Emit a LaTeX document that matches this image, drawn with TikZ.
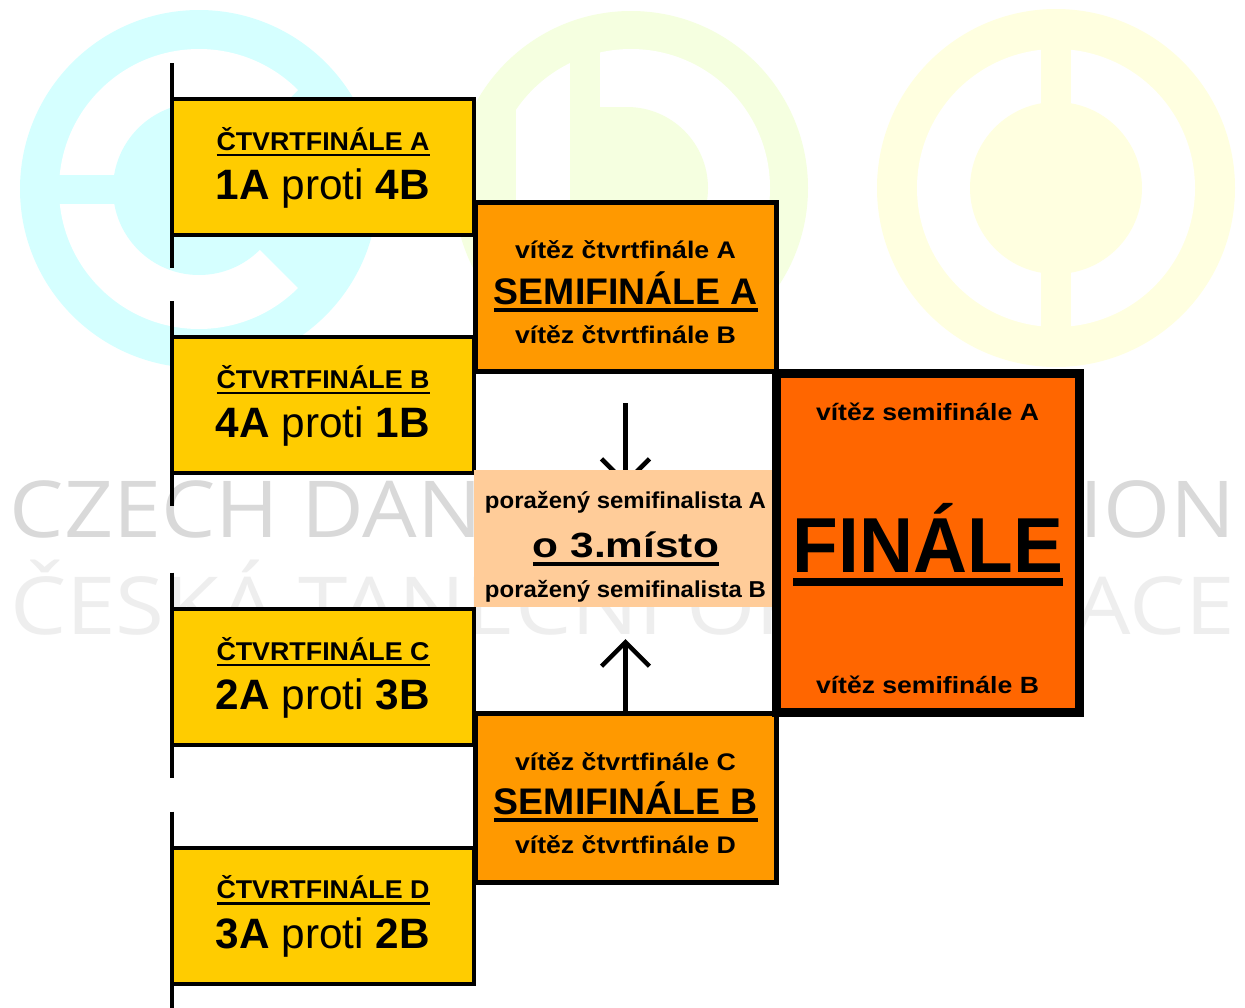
\documentclass[tikz,border=0pt]{standalone}
\usepackage{fontspec}
\usepackage{graphicx}
\setmainfont{Liberation Sans}
\newfontfamily\wmfont{Open Sans}
\usetikzlibrary{arrows.meta}
\definecolor{qyellow}{HTML}{FFCC00}
\definecolor{sorange}{HTML}{FF9900}
\definecolor{forange}{HTML}{FF6600}
\definecolor{peach}{HTML}{FFCC99}
\definecolor{wmC}{HTML}{D5FFFF}
\definecolor{wmD}{HTML}{F5FFE0}
\definecolor{wmO}{HTML}{FFFFE0}
\definecolor{wmgrayA}{HTML}{D9D9D9}
\definecolor{wmgrayB}{HTML}{EEEEEE}
\newcommand{\fsz}[1]{\fontsize{#1bp}{#1bp}\selectfont}
\newcommand{\ulbox}[3]{\begingroup\setbox0=\hbox{#3}\rlap{\rule[\dimexpr-#2-#1\relax]{\wd0}{#1}}\box0\endgroup}
\newcommand{\fitw}[2]{\resizebox{#1}{\height}{#2}}
\tikzset{
  qbox/.style={draw=black, line width=4bp, fill=qyellow, minimum width=302bp, minimum height=136bp, inner sep=0pt, outer sep=0pt},
  sbox/.style={draw=black, line width=5bp, fill=sorange, minimum width=301bp, minimum height=169bp, inner sep=0pt, outer sep=0pt},
  fbox/.style={draw=black, line width=9bp, fill=forange, minimum width=303bp, minimum height=339bp, inner sep=0pt, outer sep=0pt},
  pbox/.style={fill=peach, minimum width=298bp, minimum height=137bp, inner sep=0pt, outer sep=0pt},
  txt/.style={anchor=base, inner sep=0pt, outer sep=0pt, font=\bfseries},
  wmtxt/.style={anchor=base west, inner sep=0pt, outer sep=0pt},
  vline/.style={line width=4bp},
  arr/.style={line width=4.5bp, -{Straight Barb[length=24bp,width=48bp]}}
}
\begin{document}
\begin{tikzpicture}[x=1bp,y=-1bp]
\useasboundingbox (0,0) rectangle (1245,1008);
\fill[white] (0,0) rectangle (1245,1008);
% --- watermark logos ---
\fill[wmC] (199,189) circle[radius=179];
\fill[white] (199,189) -- ++(45:140) arc[start angle=45,end angle=315,radius=140] -- cycle;
\fill[wmC] (199,189) circle[radius=86];
\fill[wmC] (50,175) rectangle (120,204);
\fill[wmD] (631,188) circle[radius=177];
\begin{scope}
  \clip (516,0) rectangle (820,400);
  \fill[white] (631,188) circle[radius=139];
\end{scope}
\fill[wmD] (570,40) rectangle (600,340);
\fill[wmD] (598,107) -- (627,107) arc[start angle=-90,end angle=90,radius=81] -- (598,269) -- cycle;
\fill[wmO] (1056,188) circle[radius=179];
\fill[white] (1056,188) circle[radius=139];
\fill[wmO] (1056,188) circle[radius=86];
\fill[wmO] (1041,40) rectangle (1071,336);
% --- watermark text ---
\node[wmtxt, text=wmgrayA] (wm1) at (10,537) {\resizebox{1225bp}{\height}{\wmfont\fsz{78.5}CZECH DANCE ORGANIZATION}};
\node[wmtxt, text=wmgrayB] (wm2) at (10,634) {\resizebox{1225bp}{\height}{\wmfont\fsz{80}ČESKÁ TANEČNÍ ORGANIZACE}};
% --- down arrow (under the peach box) ---
\coordinate (dnStart) at (625.5,403);
\coordinate (dnTip) at (625.5,486);
\draw[arr] (dnStart) -- (dnTip);
% --- boxes ---
\node[qbox] (qa) at (323,167) {};
\node[qbox] (qb) at (323,405) {};
\node[qbox] (qc) at (323,676.7) {};
\node[qbox] (qd) at (323,915.5) {};
\foreach \n in {qa,qb,qc,qd}{
  \draw[vline] ([yshift=36bp]\n.north west) -- ([yshift=-33bp]\n.south west);
}
\node[sbox] (sa) at (625.5,286.5) {};
\node[sbox] (sb) at (625.5,797.5) {};
\node[pbox] (tp) at (623,538.5) {};
\node[fbox] (fi) at (928,543) {};
% --- up arrow ---
\coordinate (upTip) at (625.5,639);
\draw[arr] (sb.north) -- (upTip);
% --- quarter-final texts ---
\node[txt] (qaT) at (323,150) {\fitw{213bp}{\fsz{25.7}\ulbox{2.4bp}{3.7bp}{ČTVRTFINÁLE A}}};
\node[txt] (qaM) at (323,199.5) {\fitw{214bp}{\fsz{42.5}1A {\mdseries proti} 4B}};
\node[txt] (qbT) at (323,388) {\fitw{213bp}{\fsz{25.7}\ulbox{2.4bp}{3.7bp}{ČTVRTFINÁLE B}}};
\node[txt] (qbM) at (323,437.5) {\fitw{214bp}{\fsz{42.5}4A {\mdseries proti} 1B}};
\node[txt] (qcT) at (323,660) {\fitw{213bp}{\fsz{25.7}\ulbox{2.4bp}{3.7bp}{ČTVRTFINÁLE C}}};
\node[txt] (qcM) at (323,709.5) {\fitw{214bp}{\fsz{42.5}2A {\mdseries proti} 3B}};
\node[txt] (qdT) at (323,898.5) {\fitw{213bp}{\fsz{25.7}\ulbox{2.4bp}{3.7bp}{ČTVRTFINÁLE D}}};
\node[txt] (qdM) at (323,948) {\fitw{214bp}{\fsz{42.5}3A {\mdseries proti} 2B}};
% --- semi-final texts ---
\node[txt] (saT) at (625.5,258) {\fitw{221bp}{\fsz{24}vítěz čtvrtfinále A}};
\node[txt] (saM) at (626,304) {\fitw{264bp}{\fsz{37}\ulbox{3.6bp}{4.3bp}{SEMIFINÁLE A}}};
\node[txt] (saB) at (625.5,343) {\fitw{221bp}{\fsz{24}vítěz čtvrtfinále B}};
\node[txt] (sbT) at (625.5,770) {\fitw{221bp}{\fsz{24}vítěz čtvrtfinále C}};
\node[txt] (sbM) at (626,814) {\fitw{264bp}{\fsz{37}\ulbox{3.6bp}{4.3bp}{SEMIFINÁLE B}}};
\node[txt] (sbB) at (625.5,853) {\fitw{221bp}{\fsz{24}vítěz čtvrtfinále D}};
% --- third place texts ---
\node[txt] (tpT) at (625.5,508) {\fitw{281bp}{\fsz{23}poražený semifinalista A}};
\node[txt] (tpM) at (626,557) {\fitw{186bp}{\fsz{35}\ulbox{4bp}{5bp}{o 3.místo}}};
\node[txt] (tpB) at (625.5,597) {\fitw{281bp}{\fsz{23}poražený semifinalista B}};
% --- final texts ---
\node[txt] (fiT) at (927.5,420) {\fitw{223bp}{\fsz{23.5}vítěz semifinále A}};
\node[txt] (fiM) at (928,572) {\fitw{270bp}{\fsz{78}\ulbox{8bp}{6bp}{FINÁLE}}};
\node[txt] (fiB) at (927.5,693) {\fitw{223bp}{\fsz{23.5}vítěz semifinále B}};
\end{tikzpicture}
\end{document}
